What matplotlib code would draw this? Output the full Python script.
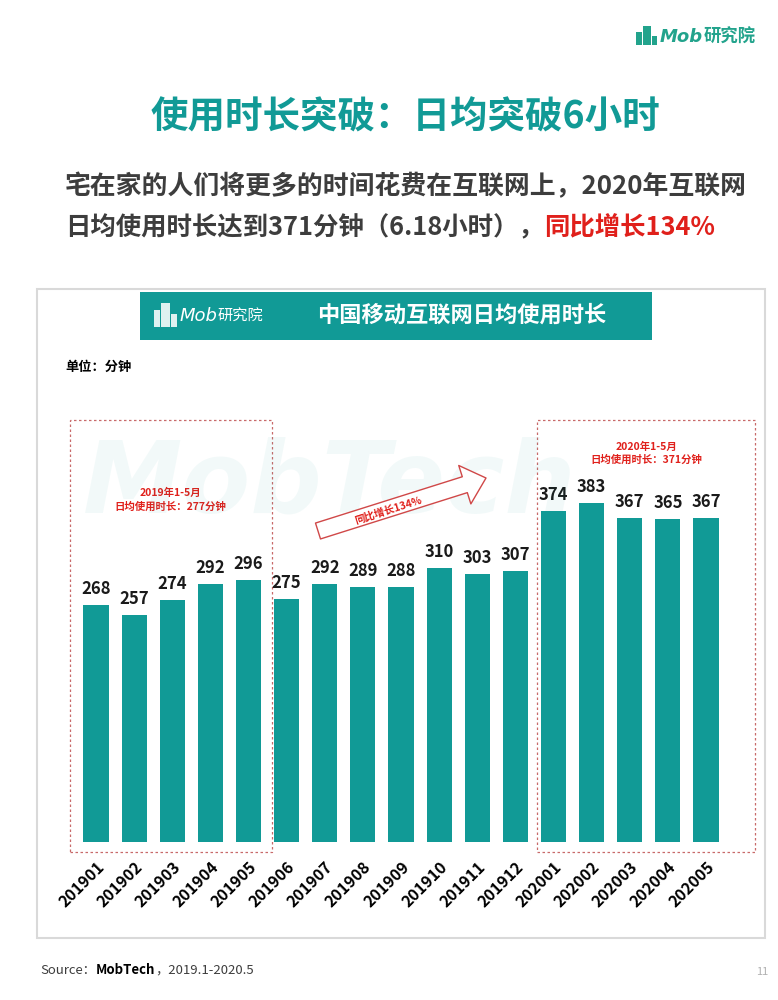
import matplotlib.pyplot as plt
from matplotlib.patches import Rectangle, FancyArrowPatch

plt.rcParams['font.family'] = ['Noto Sans CJK SC', 'DejaVu Sans']

# %% data
months = ['201901', '201902', '201903', '201904', '201905', '201906',
          '201907', '201908', '201909', '201910', '201911', '201912',
          '202001', '202002', '202003', '202004', '202005']
minutes = [268, 257, 274, 292, 296, 275, 292, 289, 288, 310, 303, 307,
           374, 383, 367, 365, 367]

title = '使用时长突破：日均突破6小时'
sub1 = '宅在家的人们将更多的时间花费在互联网上，2020年互联网'
sub2 = '日均使用时长达到371分钟（6.18小时），'
sub2_red = '同比增长134%'
chart_title = '中国移动互联网日均使用时长'
box_2019 = '2019年1-5月\n日均使用时长：277分钟'
box_2020 = '2020年1-5月\n日均使用时长：371分钟'
growth = '同比增长134%'

teal = '#119a96'
red = '#e0201b'
dark = '#3d3d3d'

# %% figure, pixel helpers (origin top-left)
W, H = 778, 1000
fig = plt.figure(figsize=(W / 100, H / 100), dpi=100)


def fx(x):
    return x / W


def fy(y):
    return 1 - y / H


# bars axes first, so annotations below attach to it
ax = fig.add_axes([fx(76.9), fy(842), 648.2 / W, 400 * 0.884 / H])
ax.patch.set_alpha(0)


def fig_rect(x0, y0, w, h, **kw):
    # rectangle given in pixels from top-left, drawn under the axes
    r = Rectangle((fx(x0), fy(y0 + h)), w / W, h / H,
                  transform=fig.transFigure, zorder=-1, **kw)
    fig.patches.append(r)
    return r


# %% top right logo
for (x0, y0, w, h) in [(636, 32, 6, 13), (643, 26, 8, 19), (652, 36, 5, 9)]:
    fig_rect(x0, y0, w, h, facecolor='#22a38c', edgecolor='none')
t_mob = fig.text(fx(660), fy(37), 'Mob', family='DejaVu Sans', style='italic',
                 weight='bold', fontsize=13, color='#22a38c', va='center')
ax.annotate('研究院', xy=(1, 0.5), xycoords=t_mob, va='center', ha='left',
            fontsize=12.5, weight='bold', color='#22a38c',
            annotation_clip=False)

# %% title + subtitle
fig.text(fx(405), fy(117), title, ha='center', va='center', fontsize=27,
         weight='bold', color=teal)
fig.text(fx(65), fy(187), sub1, ha='left', va='center', fontsize=18.6,
         weight='bold', color=dark)
t2 = fig.text(fx(65), fy(241), sub2, ha='left', va='bottom', fontsize=18.3,
              weight='bold', color=dark)
ax.annotate(sub2_red, xy=(1, 0), xycoords=t2, ha='left', va='bottom',
            fontsize=18.3, weight='bold', color=red, annotation_clip=False)

# %% panel frame + header
fig_rect(37, 289, 728, 649, facecolor='none', edgecolor='#d9d9d9',
         linewidth=1.5)
fig_rect(140, 292, 512, 48, facecolor=teal, edgecolor='none')
for (x0, y0, w, h) in [(154, 310, 6, 17), (161, 303, 9, 24), (171, 314, 6, 13)]:
    fig_rect(x0, y0, w, h, facecolor='#dff1f0', edgecolor='none')
t_hm = fig.text(fx(180), fy(316), 'Mob', family='DejaVu Sans', style='italic',
                fontsize=13, color='white', va='center')
ax.annotate('研究院', xy=(1, 0.5), xycoords=t_hm, va='center', ha='left',
            fontsize=11, color='white', annotation_clip=False)
fig.text(fx(462), fy(315), chart_title, ha='center', va='center', fontsize=16,
         weight='bold', color='white')
fig.text(fx(65), fy(367), '单位：分钟', ha='left', va='center', fontsize=9.5,
         weight='bold', color='black')

# watermark
fig.text(fx(330), fy(485), 'MobTech', ha='center', va='center', fontsize=72,
         family='DejaVu Sans', style='italic', weight='bold', color=teal,
         alpha=0.05, zorder=0)

# %% bars
ax.set_xlim(-0.5, len(months) - 0.5)
ax.set_ylim(0, 400)
x = range(len(months))
bars = ax.bar(x, minutes, width=0.66, color=teal, zorder=2)
ax.bar_label(bars, padding=5, fontsize=12, weight='bold', color='#1a1a1a')
ax.set_xticks(list(x))
ax.set_xticklabels(months, rotation=45, ha='right', va='top',
                   rotation_mode='anchor', fontsize=11.5, weight='bold')
ax.tick_params(axis='x', length=0, pad=12)
ax.set_yticks([])
for s in ax.spines.values():
    s.set_visible(False)

# dashed highlight boxes (data coords of bar index / minutes)
box_kw = dict(facecolor='none', edgecolor='#c86a6a', linewidth=0.9,
              linestyle=(0, (2, 2)), clip_on=False, zorder=1)
ax.add_patch(Rectangle((-0.68, -11), 5.3, 488, **box_kw))
ax.add_patch(Rectangle((11.57, -11), 5.71, 488, **box_kw))
ax.text(1.94, 387, box_2019, ha='center', va='center', fontsize=7.5,
        weight='bold', color=red, linespacing=1.35)
ax.text(14.43, 440, box_2020, ha='center', va='center', fontsize=7.5,
        weight='bold', color=red, linespacing=1.35)

# growth arrow
arrow = FancyArrowPatch((fx(318), fy(531)), (fx(486), fy(478)),
                        transform=fig.transFigure,
                        arrowstyle='simple,head_length=16,head_width=29,tail_width=12',
                        mutation_scale=1, shrinkA=0, shrinkB=0,
                        facecolor='white', edgecolor='#d04848', linewidth=1.0)
fig.patches.append(arrow)
fig.text(fx(388), fy(510), growth, ha='center', va='center', rotation=17.5,
         fontsize=7.5, color=red, weight='bold')

# %% footer
t_src = fig.text(fx(40), fy(970), 'Source：', ha='left', va='center',
                 fontsize=9.5, color=dark)
t_mt = ax.annotate('MobTech', xy=(1, 0.5), xycoords=t_src, ha='left',
                   va='center', fontsize=9.5, weight='bold', color='black',
                   annotation_clip=False)
ax.annotate('，2019.1-2020.5', xy=(1, 0.5), xycoords=t_mt, ha='left',
            va='center', fontsize=9.5, color=dark, annotation_clip=False)
fig.text(fx(768), fy(972), '11', ha='right', va='center', fontsize=8,
         color='#b0b0b0')

fig.savefig('out.png', dpi=100)
